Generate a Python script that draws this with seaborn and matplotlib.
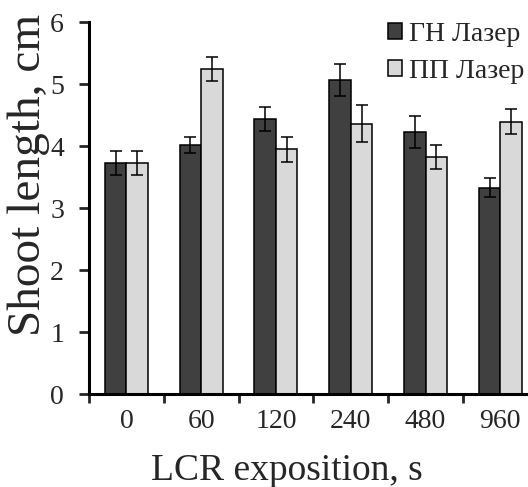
import matplotlib
matplotlib.use("Agg")
import matplotlib.pyplot as plt
import seaborn as sns
import pandas as pd
from matplotlib.ticker import FixedLocator, NullFormatter

# data
exposures = ["0", "60", "120", "240", "480", "960"]
gn_mean = [3.73, 4.01, 4.44, 5.06, 4.23, 3.33]
gn_err = [0.19, 0.13, 0.19, 0.26, 0.26, 0.15]
pp_mean = [3.73, 5.24, 3.95, 4.36, 3.82, 4.39]
pp_err = [0.19, 0.19, 0.20, 0.30, 0.19, 0.20]
series = ["ГН Лазер", "ПП Лазер"]
y_ticks = [0, 1, 2, 3, 4, 5, 6]

df = pd.DataFrame({
    "exposition": exposures * 2,
    "length": gn_mean + pp_mean,
    "err": gn_err + pp_err,
    "laser": [series[0]] * len(exposures) + [series[1]] * len(exposures),
})

sns.set_style("ticks")
plt.rcParams["font.family"] = ["Liberation Serif", "DejaVu Serif"]

fig = plt.figure(figsize=(5.28, 4.87), dpi=100)
ax = fig.add_axes([89 / 528, 93 / 487, 439 / 528, 372 / 487])

sns.barplot(data=df, x="exposition", y="length", hue="laser", order=exposures,
            hue_order=series, palette=["#404040", "#d9d9d9"], edgecolor="black",
            linewidth=1.1, width=0.575, errorbar=None, ax=ax)

# error bars from the bar patches
for container, laser in zip(ax.containers, series):
    sub = df[df["laser"] == laser]
    xs = [p.get_x() + p.get_width() / 2 for p in container.patches]
    hs = [p.get_height() for p in container.patches]
    ax.errorbar(xs, hs, yerr=sub["err"].values, fmt="none", ecolor="black",
                elinewidth=1.1, capsize=4.3, capthick=1.1, zorder=5)

ax.set_xlim(-0.5, 5.37)
ax.set_ylim(0, 6)
ax.set_yticks(y_ticks)

# ticks between groups, labels at group centres
ax.xaxis.set_major_locator(FixedLocator([i - 0.5 for i in range(len(exposures) + 1)]))
ax.xaxis.set_major_formatter(NullFormatter())
ax.xaxis.set_minor_locator(FixedLocator(range(len(exposures))))
ax.set_xticklabels(exposures, minor=True)
ax.tick_params(axis="x", which="major", direction="out", length=6.5, width=2)
ax.tick_params(axis="x", which="minor", length=0, pad=11, labelsize=20)
ax.tick_params(axis="y", direction="out", length=7, width=2, pad=11, labelsize=20)

for side in ["top", "right"]:
    ax.spines[side].set_visible(False)
for side in ["left", "bottom"]:
    ax.spines[side].set_linewidth(2.2)
    ax.spines[side].set_color("black")

ax.set_xlabel("LCR exposition, s", fontsize=27)
ax.xaxis.label.set_va("baseline")
ax.xaxis.set_label_coords(0.451, -0.231)
ax.set_ylabel("Shoot length, cm", fontsize=34)
ax.yaxis.label.set_va("baseline")
ax.yaxis.set_label_coords(-0.112, 0.589)

handles, labels = ax.get_legend_handles_labels()
ax.legend(handles, labels, loc="upper left", bbox_to_anchor=(388 / 528, 1 - 22 / 487),
          bbox_transform=fig.transFigure, frameon=False, fontsize=20,
          handlelength=0.5, handleheight=0.5, handletextpad=0.25,
          borderpad=0, borderaxespad=0, labelspacing=0.42)

fig.savefig("out.png", dpi=100)
